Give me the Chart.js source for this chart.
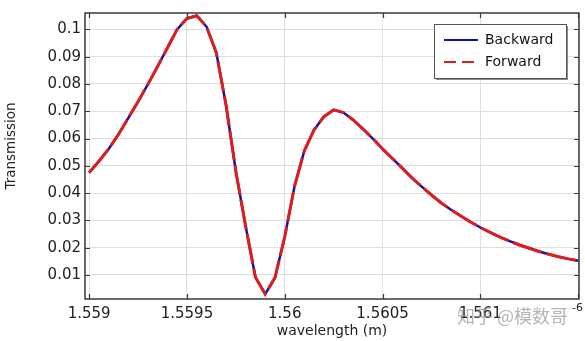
<!DOCTYPE html>
<html>
<head>
<meta charset="utf-8">
<script src="https://cdn.jsdelivr.net/npm/chart.js@4/dist/chart.umd.min.js"></script>
<style>
  html, body { margin: 0; padding: 0; background: #fff; }
  #wrap { width: 585px; height: 341px; }
</style>
</head>
<body>
<div id="wrap"><canvas id="c" width="585" height="341"></canvas></div>
<script>
// Wavelength samples, in units of 1e-6 m
const wavelength = [
  1.55900, 1.55905, 1.55910, 1.55915, 1.55920, 1.55925, 1.55930, 1.55935, 1.55940, 1.55945,
  1.55950, 1.55955, 1.55960, 1.55965, 1.55970, 1.55975, 1.55980, 1.55985, 1.55990, 1.55995,
  1.56000, 1.56005, 1.56010, 1.56015, 1.56020, 1.56025, 1.56030, 1.56035, 1.56040, 1.56045,
  1.56050, 1.56055, 1.56060, 1.56065, 1.56070, 1.56075, 1.56080, 1.56085, 1.56090, 1.56095,
  1.56100, 1.56105, 1.56110, 1.56115, 1.56120, 1.56125, 1.56130, 1.56135, 1.56140, 1.56145,
  1.56150
];
// Transmission, backward direction
const backward = [
  0.0475, 0.0517, 0.0562, 0.0615, 0.0675, 0.0735, 0.0798, 0.0864, 0.0932, 0.1000,
  0.1040, 0.1050, 0.1010, 0.0915, 0.0722, 0.0480, 0.0279, 0.0092, 0.0030, 0.0090,
  0.0240, 0.0425, 0.0555, 0.0632, 0.0680, 0.0705, 0.0695, 0.0668, 0.0635, 0.0600,
  0.0562, 0.0527, 0.0492, 0.0456, 0.0424, 0.0393, 0.0364, 0.0339, 0.0316, 0.0294,
  0.0274, 0.0256, 0.0239, 0.0224, 0.0210, 0.0198, 0.0186, 0.0176, 0.0167, 0.0159,
  0.0152
];
// Transmission, forward direction
const forward = [
  0.0475, 0.0517, 0.0562, 0.0615, 0.0675, 0.0735, 0.0798, 0.0864, 0.0932, 0.1000,
  0.1040, 0.1050, 0.1010, 0.0915, 0.0722, 0.0480, 0.0279, 0.0092, 0.0030, 0.0090,
  0.0240, 0.0425, 0.0555, 0.0632, 0.0680, 0.0705, 0.0695, 0.0668, 0.0635, 0.0600,
  0.0562, 0.0527, 0.0492, 0.0456, 0.0424, 0.0393, 0.0364, 0.0339, 0.0316, 0.0294,
  0.0274, 0.0256, 0.0239, 0.0224, 0.0210, 0.0198, 0.0186, 0.0176, 0.0167, 0.0159,
  0.0152
];
const xTickValues = [1.559, 1.5595, 1.56, 1.5605, 1.561, 1.5615];
const xTickLabels = ['1.559', '1.5595', '1.56', '1.5605', '1.561', ''];
const yTickValues = [0.01, 0.02, 0.03, 0.04, 0.05, 0.06, 0.07, 0.08, 0.09, 0.1];
const yTickLabels = ['0.01', '0.02', '0.03', '0.04', '0.05', '0.06', '0.07', '0.08', '0.09', '0.1'];
const seriesNames = ['Backward', 'Forward'];

const BLUE = '#1010b4';
const RED = '#dc1e1e';
const FONT = "'DejaVu Sans', sans-serif";

const toPoints = ys => wavelength.map((x, i) => ({ x, y: ys[i] }));

// Frame, inward tick marks, y title, legend, exponent and watermark
const decorations = {
  id: 'decorations',
  afterDraw(chart) {
    const { ctx, chartArea: a, scales } = chart;
    const xs = scales.x, ys = scales.y;
    ctx.save();
    ctx.strokeStyle = '#3a3a3a';
    ctx.lineWidth = 1.5;
    ctx.strokeRect(a.left, a.top, a.right - a.left, a.bottom - a.top);
    ctx.lineWidth = 1.2;
    const tl = 5;
    ctx.beginPath();
    xTickValues.forEach(v => {
      const px = Math.round(xs.getPixelForValue(v)) + 0.5;
      ctx.moveTo(px, a.bottom); ctx.lineTo(px, a.bottom - tl);
      ctx.moveTo(px, a.top); ctx.lineTo(px, a.top + tl);
    });
    yTickValues.forEach(v => {
      const py = Math.round(ys.getPixelForValue(v)) + 0.5;
      ctx.moveTo(a.left, py); ctx.lineTo(a.left + tl, py);
      ctx.moveTo(a.right, py); ctx.lineTo(a.right - tl, py);
    });
    ctx.stroke();

    // Vertical axis title
    ctx.save();
    ctx.translate(11, 146);
    ctx.rotate(-Math.PI / 2);
    ctx.font = '13.5px ' + FONT;
    ctx.fillStyle = '#222';
    ctx.textAlign = 'center';
    ctx.textBaseline = 'middle';
    ctx.fillText('Transmission', 0, 0);
    ctx.restore();

    // Legend box with a soft drop shadow
    const lx = 434, ly = 24, lw = 132, lh = 54;
    ctx.fillStyle = '#8a8a8a';
    ctx.fillRect(lx + 2, ly + 2, lw, lh);
    ctx.fillStyle = '#fff';
    ctx.fillRect(lx, ly, lw, lh);
    ctx.strokeStyle = '#555';
    ctx.lineWidth = 1;
    ctx.strokeRect(lx + 0.5, ly + 0.5, lw, lh);

    ctx.lineWidth = 2;
    ctx.strokeStyle = BLUE;
    ctx.beginPath(); ctx.moveTo(444, 40); ctx.lineTo(478, 40); ctx.stroke();
    ctx.strokeStyle = RED;
    ctx.setLineDash([12, 6]);
    ctx.beginPath(); ctx.moveTo(444, 62); ctx.lineTo(478, 62); ctx.stroke();
    ctx.setLineDash([]);

    ctx.fillStyle = '#111';
    ctx.font = '14px ' + FONT;
    ctx.textBaseline = 'middle';
    ctx.textAlign = 'left';
    ctx.fillText(seriesNames[0], 485, 40);
    ctx.fillText(seriesNames[1], 485, 62);

    // Axis exponent for the wavelength scale
    ctx.font = '11px ' + FONT;
    ctx.fillStyle = '#222';
    ctx.fillText('-6', 572, 308);

    // Watermark
    ctx.font = "18px 'Noto Sans CJK SC', sans-serif";
    ctx.fillStyle = 'rgba(150,150,150,0.7)';
    ctx.fillText('知乎 @模数哥', 457, 316);
    ctx.restore();
  }
};

new Chart(document.getElementById('c'), {
  type: 'line',
  data: {
    datasets: [
      {
        label: seriesNames[1],
        data: toPoints(forward),
        borderColor: RED,
        borderWidth: 3,
        borderDash: [30, 5],
        pointRadius: 0,
        tension: 0,
        order: 1
      },
      {
        label: seriesNames[0],
        data: toPoints(backward),
        borderColor: BLUE,
        borderWidth: 2.5,
        pointRadius: 0,
        tension: 0,
        order: 2
      }
    ]
  },
  options: {
    responsive: false,
    animation: false,
    devicePixelRatio: 1,
    layout: { padding: { top: 7, right: 6, left: 0, bottom: 0 } },
    plugins: { legend: { display: false }, tooltip: { enabled: false } },
    scales: {
      x: {
        type: 'linear',
        min: 1.558979,
        max: 1.561504,
        afterBuildTicks: s => { s.ticks = xTickValues.map(v => ({ value: v })); },
        afterFit: s => { s.height = 42; },
        grid: { color: '#dedede', drawTicks: false },
        border: { display: false },
        ticks: {
          padding: 6,
          maxRotation: 0,
          autoSkip: false,
          color: '#222',
          font: { family: FONT, size: 15 },
          callback: v => { const i = xTickValues.findIndex(t => Math.abs(t - v) < 1e-9); return i >= 0 ? xTickLabels[i] : ''; }
        },
        title: {
          display: true,
          text: 'wavelength (m)',
          color: '#222',
          font: { family: FONT, size: 14 },
          padding: { top: 0, bottom: 1 }
        }
      },
      y: {
        min: 0.0012,
        max: 0.106,
        afterBuildTicks: s => { s.ticks = yTickValues.map(v => ({ value: v })); },
        afterFit: s => { s.width = 85; },
        grid: { color: '#dedede', drawTicks: false },
        border: { display: false },
        ticks: {
          padding: 4,
          autoSkip: false,
          color: '#222',
          font: { family: FONT, size: 15 },
          callback: v => { const i = yTickValues.findIndex(t => Math.abs(t - v) < 1e-9); return i >= 0 ? yTickLabels[i] : ''; }
        }
      }
    }
  },
  plugins: [decorations]
});
</script>
</body>
</html>
